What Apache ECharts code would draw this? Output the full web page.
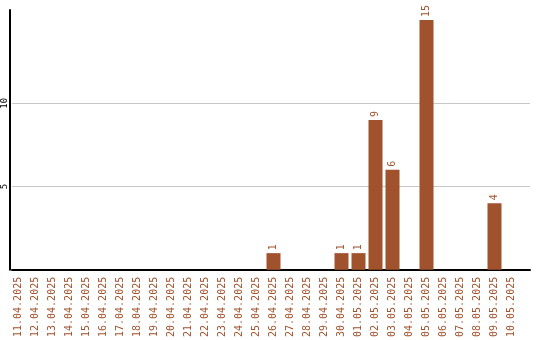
<!DOCTYPE html>
<html><head><meta charset="utf-8">
<script src="https://cdn.jsdelivr.net/npm/echarts@6/dist/echarts.min.js"></script>
<style>html,body{margin:0;padding:0;background:#fff}#c{width:540px;height:340px}</style>
</head><body><div id="c"></div>
<script>
const categories = ['11.04.2025','12.04.2025','13.04.2025','14.04.2025','15.04.2025','16.04.2025','17.04.2025','18.04.2025','19.04.2025','20.04.2025','21.04.2025','22.04.2025','23.04.2025','24.04.2025','25.04.2025','26.04.2025','27.04.2025','28.04.2025','29.04.2025','30.04.2025','01.05.2025','02.05.2025','03.05.2025','04.05.2025','05.05.2025','06.05.2025','07.05.2025','08.05.2025','09.05.2025','10.05.2025'];
const values = [0,0,0,0,0,0,0,0,0,0,0,0,0,0,0,1,0,0,0,1,1,9,6,0,15,0,0,0,4,0];
const yTicks = [5, 10];

const brown = '#A0522D';
const font = 'DejaVu Sans Mono';
const chart = echarts.init(document.getElementById('c'), null, {renderer:'canvas'});
chart.setOption({
  animation: false,
  grid: [
    {left: 10, right: 20, top: 10, bottom: 70},
    {left: 10, right: 10, top: 103.33, bottom: 70}
  ],
  xAxis: [
    {type: 'category', gridIndex: 0, data: categories,
     axisLine: {show: false}, axisTick: {show: false},
     axisLabel: {rotate: 90, interval: 0, color: brown, fontFamily: font, fontSize: 10, margin: 7}},
    {type: 'value', gridIndex: 1, min: 0, max: 1,
     axisLine: {show: true, onZero: false, lineStyle: {color: '#000', width: 2}},
     axisTick: {show: false}, axisLabel: {show: false}, splitLine: {show: false}}
  ],
  yAxis: [
    {type: 'value', gridIndex: 0, min: 0, max: 15.6,
     axisLine: {show: true, lineStyle: {color: '#000', width: 2}},
     axisTick: {show: false}, axisLabel: {show: false}, splitLine: {show: false}},
    {type: 'value', gridIndex: 1, min: 0, max: 10, interval: 5,
     axisLine: {show: false}, axisTick: {show: false},
     splitLine: {show: true, lineStyle: {color: '#c8c8c8', width: 1}},
     axisLabel: {rotate: 90, color: '#000', fontFamily: font, fontSize: 9, margin: 3,
       formatter: v => yTicks.includes(v) ? String(v) : ''}}
  ],
  series: [{
    type: 'bar', xAxisIndex: 0, yAxisIndex: 0, data: values.map(v => v === 0 ? null : v),
    barWidth: 14, itemStyle: {color: brown},
    label: {show: true, position: 'top', rotate: 90, align: 'left', verticalAlign: 'middle',
            distance: 3, color: brown, fontFamily: font, fontSize: 10}
  }]
});
</script></body></html>
